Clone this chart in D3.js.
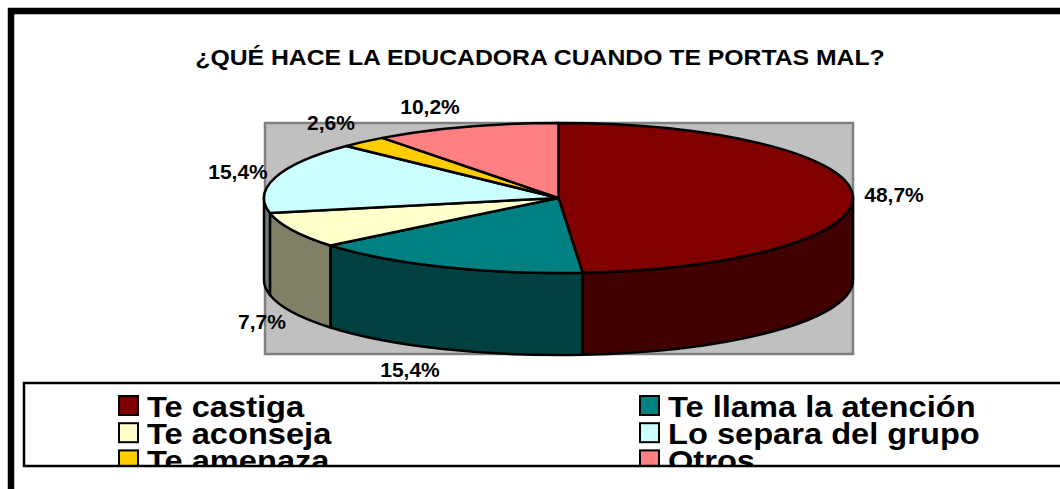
<!DOCTYPE html>
<html><head><meta charset="utf-8">
<script src="https://cdnjs.cloudflare.com/ajax/libs/d3/7.8.5/d3.min.js"></script>
<style>html,body{margin:0;padding:0;background:#fff;overflow:hidden}svg{display:block}text{font-family:"Liberation Sans",Arial,sans-serif;font-weight:bold;fill:#000}</style>
</head><body><svg id="c" width="1060" height="489"></svg>
<script>
const categories=["Te castiga","Te llama la atención","Te aconseja","Lo separa del grupo","Te amenaza","Otros"];
const values=[48.7,15.4,7.7,15.4,2.6,10.2];
const labels=["48,7%","15,4%","7,7%","15,4%","2,6%","10,2%"];
const topColors=["#800000","#008080","#FFFFCC","#CCFFFF","#FFCC00","#FF8080"];
const sideColors=["#400000","#004040","#808066","#668080","#806600","#804040"];
const titleText="¿QUÉ HACE LA EDUCADORA CUANDO TE PORTAS MAL?";

const svg=d3.select("#c");
const cx=558.5,cy=198,rx=294.5,ry=75,depth=82;

// outer frame
svg.append("rect").attr("x",11).attr("y",11).attr("width",1100).attr("height",600)
  .attr("fill","#fff").attr("stroke","#000").attr("stroke-width",6.5);
svg.append("text").attr("transform","translate(540,65) scale(1.126,1)").attr("text-anchor","middle").attr("font-size",22).text(titleText);

// plot area
svg.append("rect").attr("x",265).attr("y",123).attr("width",588).attr("height",231)
  .attr("fill","#C0C0C0").attr("stroke","#808080").attr("stroke-width",2.5);

const pie=d3.pie().sort(null).value(d=>d)(values);
const px=a=>cx+rx*Math.sin(a), py=a=>cy-ry*Math.cos(a);
const fmt=d3.format(".2f");
function sidePath(a0,a1){
  const x0=fmt(px(a0)),y0=fmt(py(a0)),x1=fmt(px(a1)),y1=fmt(py(a1));
  return `M${x0},${y0}A${rx},${ry} 0 0 1 ${x1},${y1}L${x1},${+y1+depth}A${rx},${ry} 0 0 0 ${x0},${+y0+depth}Z`;
}
// visible side walls: front half only (pi/2 .. 3pi/2)
const R=Math.PI/2, L=3*Math.PI/2;
const sides=pie.map((d,i)=>({a0:Math.max(d.startAngle,R),a1:Math.min(d.endAngle,L),i})).filter(d=>d.a1>d.a0);
svg.append("g").selectAll("path").data(sides).join("path")
  .attr("d",d=>sidePath(d.a0,d.a1)).attr("fill",d=>sideColors[d.i])
  .attr("stroke","#000").attr("stroke-width",2.5).attr("stroke-linejoin","round");

// top face
const arc=d3.arc().innerRadius(0).outerRadius(rx);
svg.append("g").attr("transform",`translate(${cx},${cy}) scale(1,${ry/rx})`)
  .selectAll("path").data(pie).join("path")
  .attr("d",arc).attr("fill",(d,i)=>topColors[i])
  .attr("stroke","#000").attr("stroke-width",2.5).attr("vector-effect","non-scaling-stroke").attr("stroke-linejoin","round");

// data labels
const labelPos=[[894,202],[410,376.5],[262,329],[238,179],[331,130],[430,114]];
svg.append("g").selectAll("text").data(labels).join("text")
  .attr("transform",(d,i)=>`translate(${labelPos[i][0]},${labelPos[i][1]}) scale(1.05,1)`)
  .attr("text-anchor","middle").attr("font-size",20).text(d=>d);

// legend
svg.append("clipPath").attr("id","lg").append("rect").attr("x",24).attr("y",382).attr("width",1040).attr("height",84);
svg.append("rect").attr("x",24).attr("y",383).attr("width",1060).attr("height",83)
  .attr("fill","#fff");
const items=svg.append("g").attr("clip-path","url(#lg)").selectAll("g").data(categories).join("g")
  .attr("transform",(d,i)=>`translate(${i%2?639:118},${395+27.2*Math.floor(i/2)})`);
items.append("rect").attr("x",1).attr("y",1).attr("width",19).attr("height",19)
  .attr("fill",(d,i)=>topColors[i]).attr("stroke","#000").attr("stroke-width",2);
items.append("text").attr("transform","translate(29,21.5) scale(1.125,1)").attr("font-size",29).text(d=>d);
svg.append("rect").attr("x",24).attr("y",383).attr("width",1060).attr("height",83)
  .attr("fill","none").attr("stroke","#000").attr("stroke-width",2.5);
</script></body></html>
